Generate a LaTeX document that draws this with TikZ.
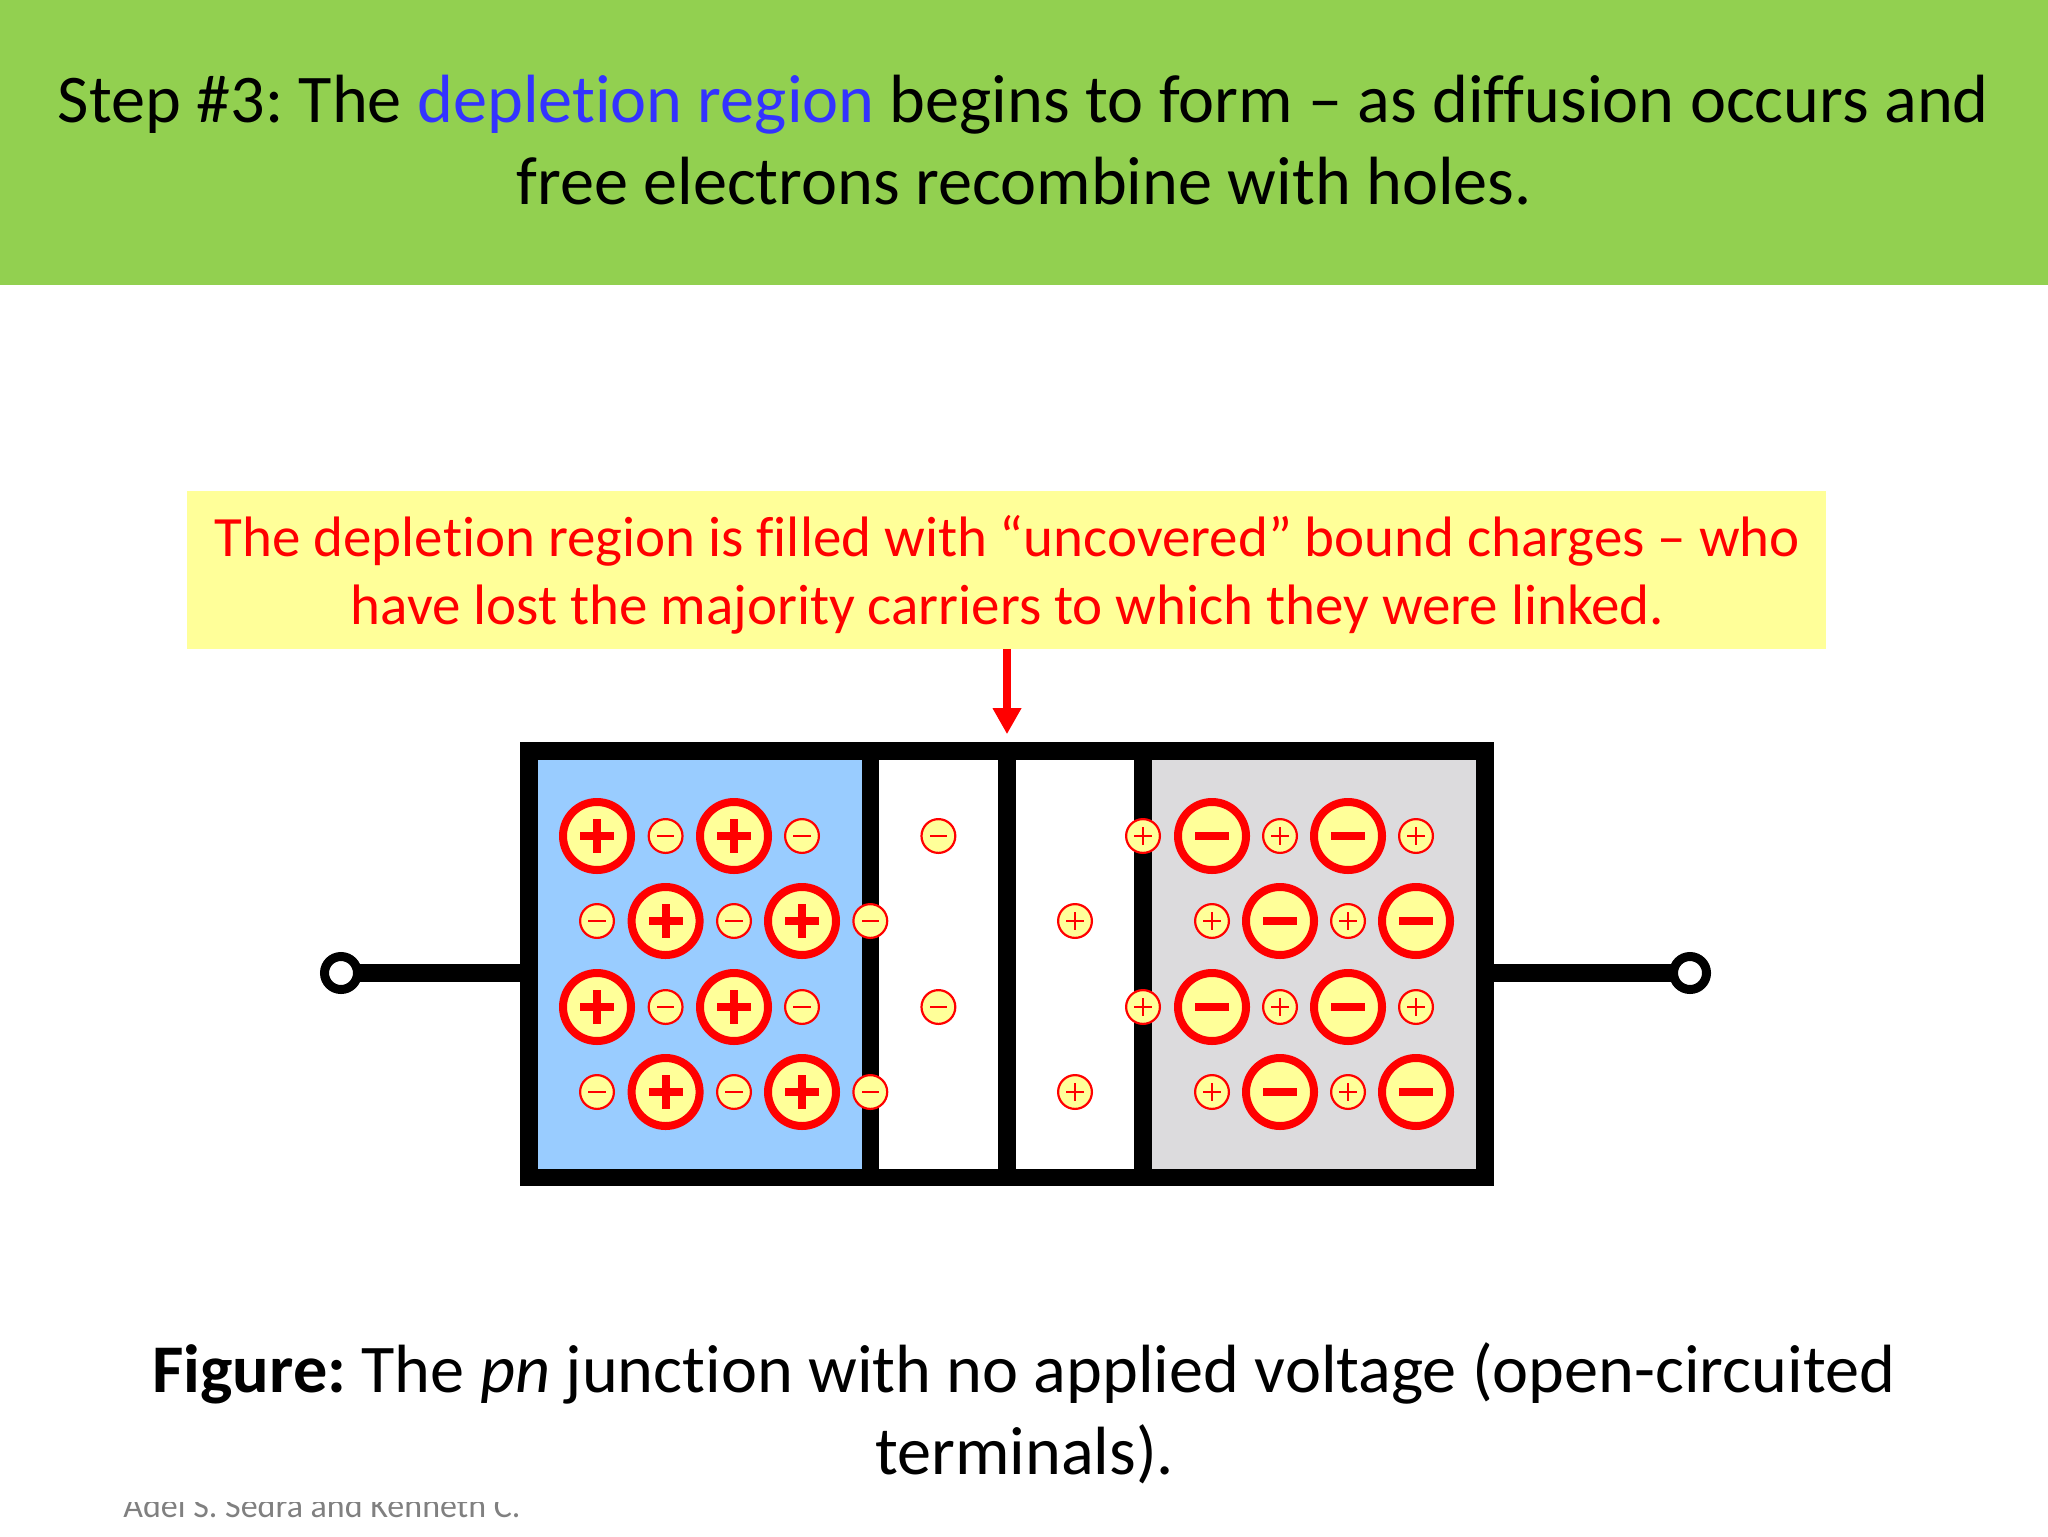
\documentclass[tikz,border=0pt]{standalone}
\usepackage{fontspec}
\setmainfont{Carlito}[RawFeature={-liga}]
\usetikzlibrary{arrows.meta}
\definecolor{headgreen}{HTML}{92D050}
\definecolor{noteyellow}{HTML}{FFFF99}
\definecolor{pblue}{HTML}{99CCFF}
\definecolor{ngray}{HTML}{DCDBDD}
\definecolor{deplblue}{HTML}{3333FF}
\definecolor{footgray}{HTML}{808080}
\tikzset{
  x=0.5pt,y=-0.5pt,
  bigion/.style={circle,draw=red,fill=noteyellow,line width=4pt,minimum size=34pt,inner sep=0pt,outer sep=0pt},
  smallion/.style={circle,draw=red,fill=noteyellow,line width=1.1pt,minimum size=16.9pt,inner sep=0pt,outer sep=0pt},
  headline/.style={anchor=base,font=\frenchspacing\fontsize{34.12}{34.12}\selectfont,inner sep=0pt},
  noteline/.style={anchor=base,font=\frenchspacing\fontsize{28.5}{28.5}\selectfont,text=red,inner sep=0pt},
  wall/.style={draw=black,line width=8.7pt},
  wire/.style={draw=black,line width=8.8pt},
  terminal/.style={circle,draw=black,fill=white,line width=4.5pt,minimum size=16.5pt,inner sep=0pt,outer sep=0pt},
}
% big and small bound charges: #1 name, #2 x, #3 y
\newcommand{\bigP}[3]{\node[bigion] (#1) at (#2,#3) {};
  \fill[red] ([xshift=-8.5pt,yshift=-2pt]#1.center) rectangle ([xshift=8.5pt,yshift=2pt]#1.center);
  \fill[red] ([xshift=-2pt,yshift=-8.5pt]#1.center) rectangle ([xshift=2pt,yshift=8.5pt]#1.center);}
\newcommand{\bigM}[3]{\node[bigion] (#1) at (#2,#3) {};
  \fill[red] ([xshift=-8.5pt,yshift=-2.2pt]#1.center) rectangle ([xshift=8.5pt,yshift=2.2pt]#1.center);}
\newcommand{\smallP}[3]{\node[smallion] (#1) at (#2,#3) {};
  \fill[red] ([xshift=-4.3pt,yshift=-0.7pt]#1.center) rectangle ([xshift=4.3pt,yshift=0.7pt]#1.center);
  \fill[red] ([xshift=-0.7pt,yshift=-4.3pt]#1.center) rectangle ([xshift=0.7pt,yshift=4.3pt]#1.center);}
\newcommand{\smallM}[3]{\node[smallion] (#1) at (#2,#3) {};
  \fill[red] ([xshift=-4.3pt,yshift=-0.7pt]#1.center) rectangle ([xshift=4.3pt,yshift=0.7pt]#1.center);}
\begin{document}
\begin{tikzpicture}
\useasboundingbox (0,0) rectangle (2048,1536);
\fill[white] (0,0) rectangle (2048,1536);
\fill[headgreen] (0,0) rectangle (2048,285);
\node[headline] (h1) at (1023.5,122.5) {Step \#3: The \textcolor{deplblue}{depletion region} begins to form – as diffusion occurs and};
\node[headline] (h2) at (1024,204) {free electrons recombine with holes.};
% footer, cut by the caption box above it
\node[anchor=base west,inner sep=0pt,text=footgray,font=\fontsize{17}{17}\selectfont] (foot) at (123,1517) {Adel S. Sedra and Kenneth C.};
\fill[white] (100,1470) rectangle (600,1502);
\node[headline] (c1) at (1024,1392) {\textbf{Figure:} The \textit{pn} junction with no applied voltage (open-circuited};
\node[headline] (c2) at (1024.5,1474) {terminals).};
% note
\fill[noteyellow] (187,491) rectangle (1826,649);
\coordinate (notebot) at (1007,649);
\node[noteline] (n1) at (1007.5,556) {The depletion region is filled with “uncovered” bound charges – who};
\node[noteline] (n2) at (1007.5,624) {have lost the majority carriers to which they were linked.};
% regions
\fill[pblue] (529,751) rectangle (870,1178);
\fill[ngray] (1143,751) rectangle (1485,1178);
% terminals and wires
\coordinate (lw) at (529,973);
\coordinate (rw) at (1485,973);
\node[terminal] (lt) at (341,973) {};
\node[terminal] (rt) at (1690,973) {};
\draw[wire] (lt) -- (lw);
\draw[wire] (rw) -- (rt);
% walls
\coordinate (top) at (1007,751);
\coordinate (bot) at (1007,1177.5);
\draw[wall] (529,750.8) rectangle (1485,1177.5);
\draw[wall] (870.3,751) -- (870.3,1177);
\draw[wall] (top) -- (bot);
\draw[wall] (1143,751) -- (1143,1177);
% arrow
\draw[red,line width=3.6pt,-{Triangle[width=13.5pt,length=13pt]},shorten >=8.4pt] (notebot) -- (top);
% p side
\foreach \y/\r in {836/a,1007/c}{
  \bigP{p1\r}{597}{\y}\smallM{m1\r}{665.6}{\y}\bigP{p2\r}{734}{\y}\smallM{m2\r}{802}{\y}
  \smallM{d1\r}{938.4}{\y}\smallP{e1\r}{1143}{\y}
  \bigM{q1\r}{1212}{\y}\smallP{s1\r}{1280}{\y}\bigM{q2\r}{1348}{\y}\smallP{s2\r}{1416}{\y}
}
\foreach \y/\r in {921/b,1092/d}{
  \smallM{m1\r}{597}{\y}\bigP{p1\r}{665.6}{\y}\smallM{m2\r}{734}{\y}\bigP{p2\r}{802}{\y}\smallM{m3\r}{870.3}{\y}
  \smallP{d1\r}{1075}{\y}
  \smallP{s1\r}{1212}{\y}\bigM{q1\r}{1280}{\y}\smallP{s2\r}{1348}{\y}\bigM{q2\r}{1416}{\y}
}
\end{tikzpicture}
\end{document}
